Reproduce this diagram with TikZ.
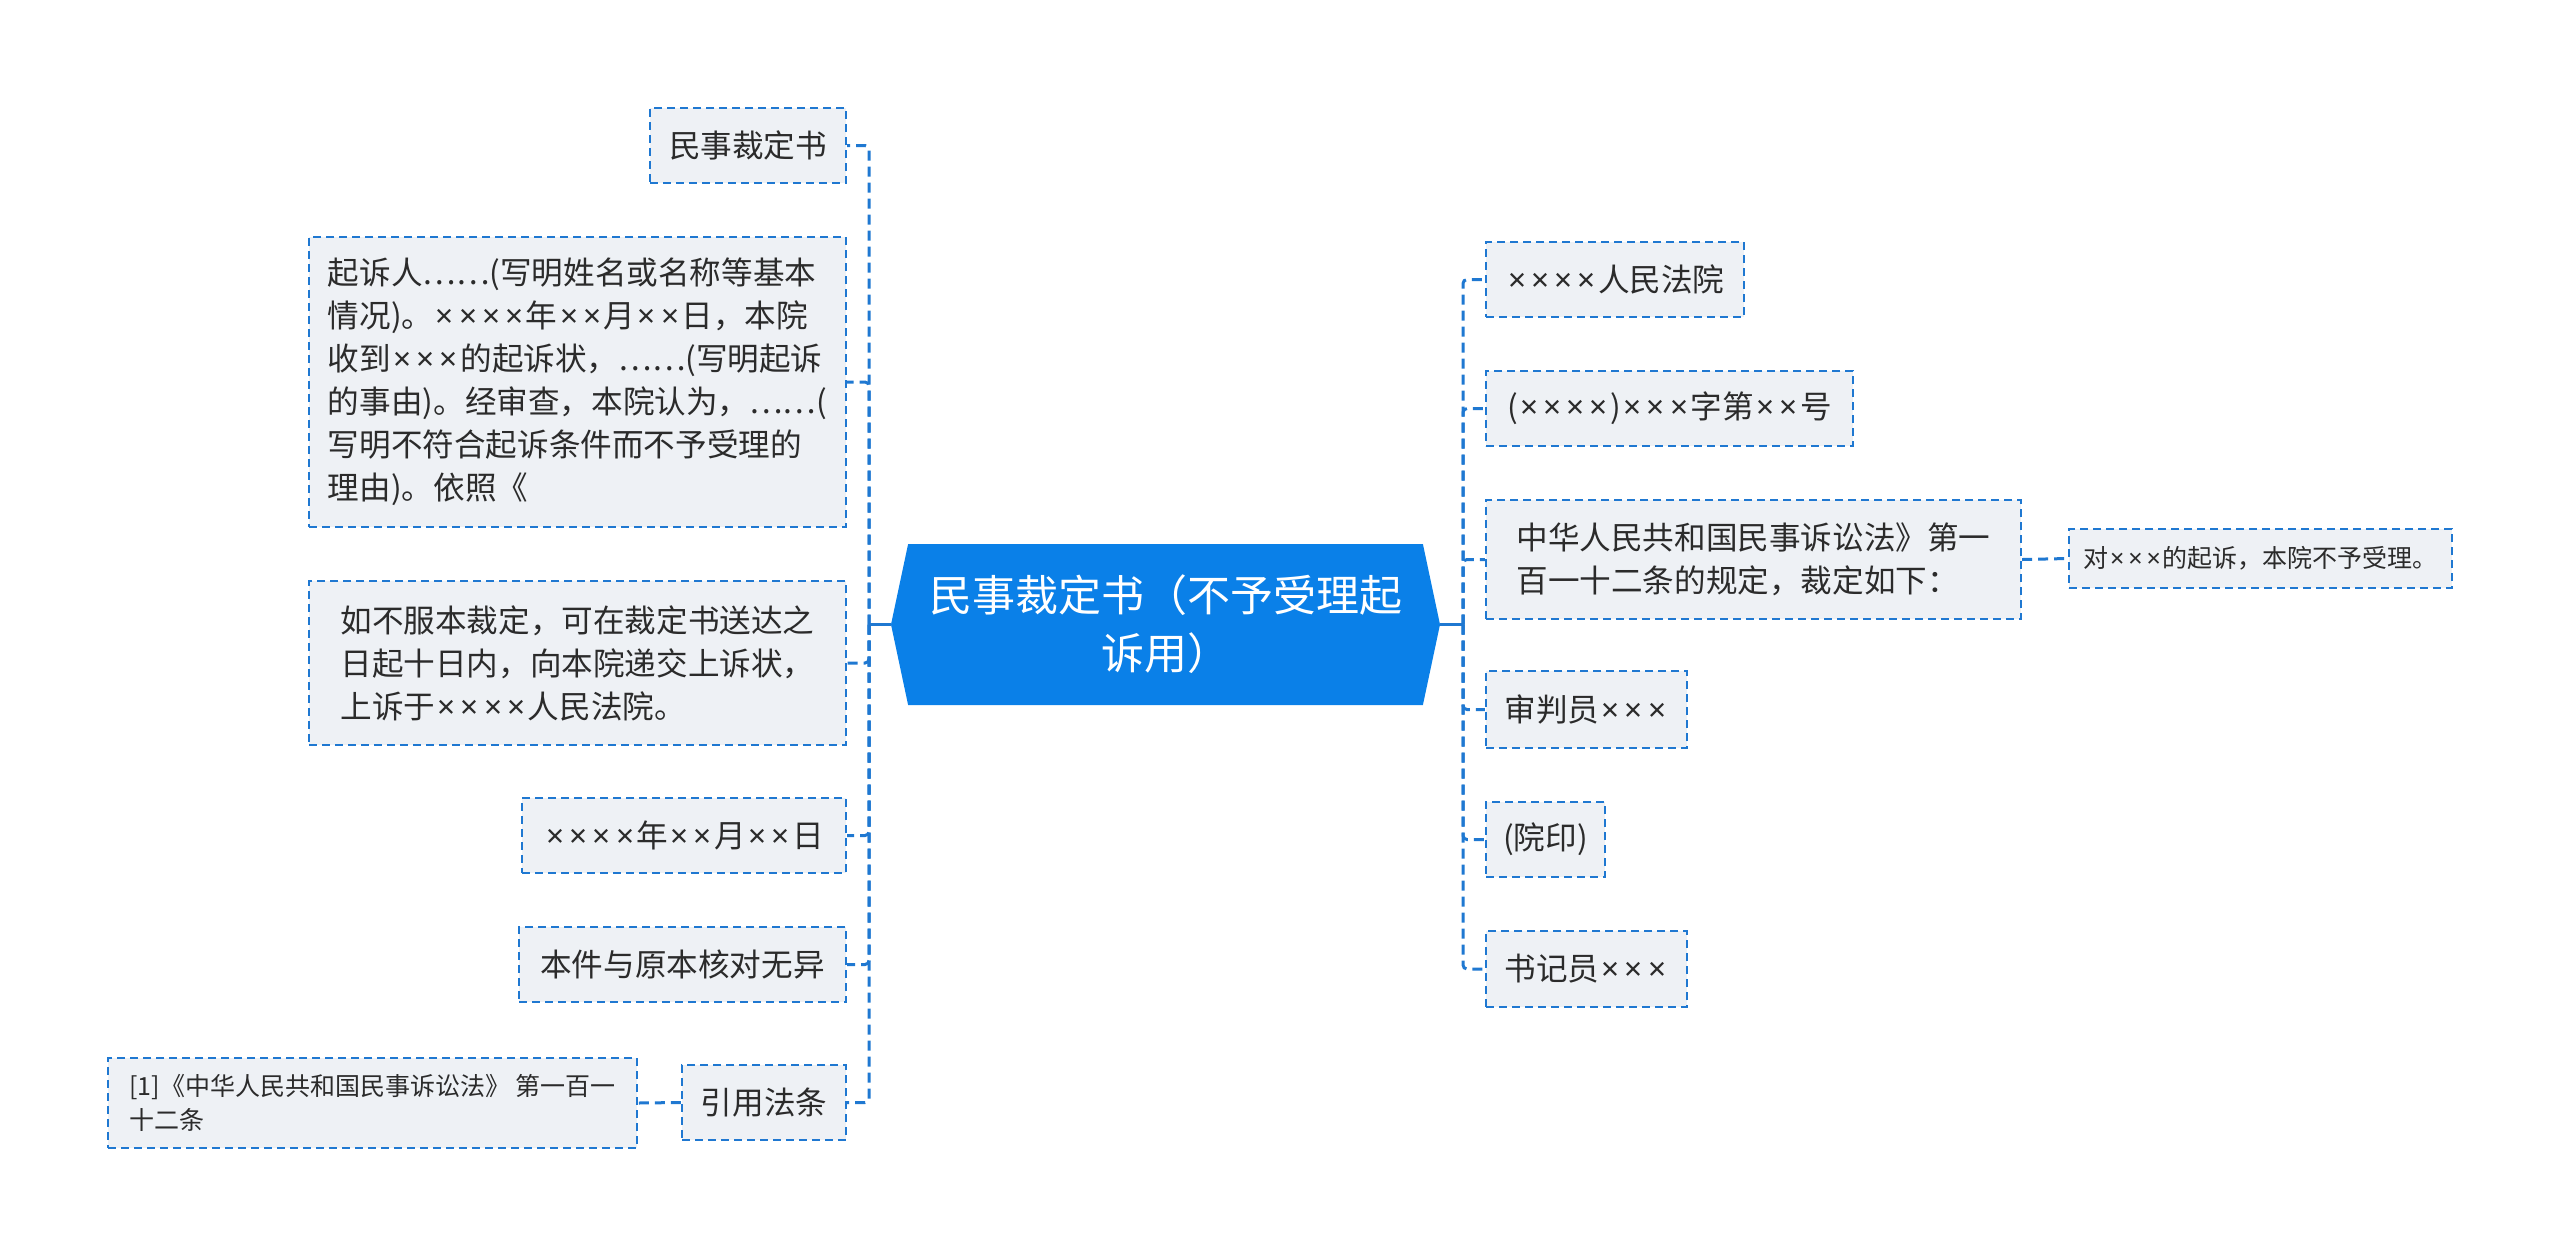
\documentclass[tikz,border=0pt]{standalone}
\usepackage{fontspec}
\newfontfamily\cjk{Noto Sans CJK SC}
\newfontfamily\latin{Noto Sans}
\newcommand\tm{\kern0.08em{\latin ×}\kern0.08em}
\usetikzlibrary{shapes.symbols}
\definecolor{rootblue}{HTML}{0A80E8}
\definecolor{linkblue}{HTML}{1F78D1}
\definecolor{boxfill}{HTML}{EEF1F5}
\definecolor{ink}{HTML}{2B2B2B}

\begin{document}
\begin{tikzpicture}[x=0.5pt, y=-0.5pt,
  topic/.style={signal, signal to=west and east, signal pointer angle=156, fill=rootblue, text=white, inner sep=0pt, align=center, font=\cjk\fontsize{21.5}{29}\selectfont},
  leaf/.style={draw=linkblue, dash pattern=on 4pt off 2.5pt, line width=1.1pt, fill=boxfill, text=ink, inner sep=0pt, align=left, font=\cjk\fontsize{15.8}{21.5}\selectfont},
  note/.style={leaf, font=\cjk\fontsize{12.5}{17}\selectfont},
  link/.style={draw=linkblue, line width=1.5pt, dash pattern=on 5pt off 3pt, rounded corners=2pt},
  stem/.style={draw=linkblue, line width=1.8pt}]
\useasboundingbox (0,0) rectangle (2560,1255);
\node[topic, minimum width=274.5pt, minimum height=80.5pt] (root) at (1165.5,624.5) {民事裁定书（不予受理起\\诉用）};
\node[leaf, minimum width=98pt, minimum height=37.5pt] (title) at (748,145.5) {民事裁定书};
\node[leaf, minimum width=268.5pt, minimum height=145pt] (suit) at (577.5,382) {起诉人……(写明姓名或名称等基本\\情况)。\tm\tm\tm\tm 年\tm\tm 月\tm\tm 日，本院\\收到\tm\tm\tm 的起诉状，……(写明起诉\\的事由)。经审查，本院认为，……(\\写明不符合起诉条件而不予受理的\\理由)。依照《};
\node[leaf, minimum width=268.5pt, minimum height=82pt] (appeal) at (577.5,663) {如不服本裁定，可在裁定书送达之\\日起十日内，向本院递交上诉状，\\上诉于\tm\tm\tm\tm 人民法院。};
\node[leaf, minimum width=162pt, minimum height=37.5pt] (date) at (684,835.5) {\tm\tm\tm\tm 年\tm\tm 月\tm\tm 日};
\node[leaf, minimum width=163.5pt, minimum height=37.5pt] (check) at (682.5,964.5) {本件与原本核对无异};
\node[leaf, minimum width=82pt, minimum height=37.5pt] (law) at (764,1102.5) {引用法条};
\node[note, minimum width=264.5pt, minimum height=45pt] (cite) at (372.5,1103) {[1]《中华人民共和国民事诉讼法》 第一百一\\十二条};
\node[leaf, minimum width=129pt, minimum height=37.5pt] (court) at (1615,279.5) {\tm\tm\tm\tm 人民法院};
\node[leaf, minimum width=183.5pt, minimum height=37.5pt] (caseno) at (1669.5,408.5) {(\tm\tm\tm\tm)\tm\tm\tm 字第\tm\tm 号};
\node[leaf, minimum width=267.5pt, minimum height=59.5pt] (basis) at (1753.5,559.5) {中华人民共和国民事诉讼法》第一\\百一十二条的规定，裁定如下：};
\node[note, minimum width=191.5pt, minimum height=29.5pt] (ruling) at (2260.5,558.5) {对\tm\tm\tm 的起诉，本院不予受理。};
\node[leaf, minimum width=100.5pt, minimum height=38.5pt] (judge) at (1586.5,709.5) {审判员\tm\tm\tm};
\node[leaf, minimum width=59.5pt, minimum height=37.5pt] (seal) at (1545.5,839.5) {(院印)};
\node[leaf, minimum width=100.5pt, minimum height=38pt] (clerk) at (1586.5,969) {书记员\tm\tm\tm};
\coordinate (lhub) at (869,624.5);
\coordinate (rhub) at (1463,624.5);
\draw[stem] (root.west) -- (lhub);
\draw[stem] (root.east) -- (rhub);
\foreach \n in {title,suit,appeal,date,check,law}
  \draw[link] (lhub) |- (\n.east);
\foreach \n in {court,caseno,basis,judge,seal,clerk}
  \draw[link] (rhub) |- (\n.west);
\draw[link] (law.west) -- (cite.east);
\draw[link] (basis.east) -- (ruling.west);
\end{tikzpicture}
\end{document}
